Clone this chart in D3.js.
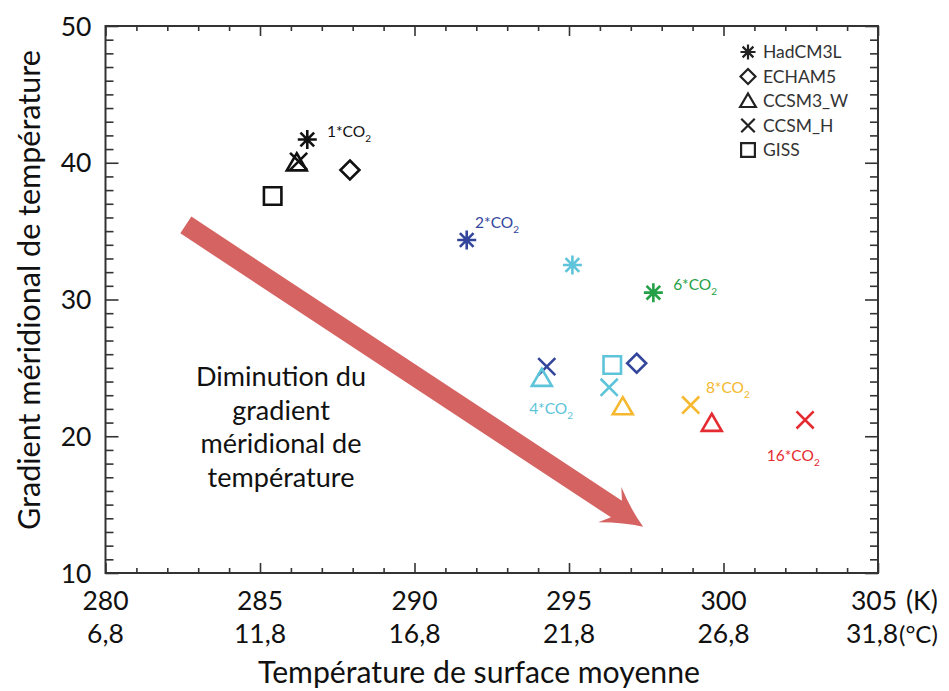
<!DOCTYPE html>
<html>
<head>
<meta charset="utf-8">
<script src="https://cdn.jsdelivr.net/npm/d3@7"></script>
<style>
  html, body { margin: 0; padding: 0; background: #fff; }
  svg { display: block; font-family: "Lato", "Open Sans", sans-serif; }
</style>
</head>
<body>
<svg id="chart" width="949" height="691"></svg>
<script>
// ---- data ----
const models = ["HadCM3L", "ECHAM5", "CCSM3_W", "CCSM_H", "GISS"];
const scenarios = ["1*CO", "2*CO", "4*CO", "6*CO", "8*CO", "16*CO"];
const scenarioColors = ["#111111", "#34469c", "#5ec4d9", "#25a047", "#f5b82e", "#e52b32"];

// each point: scenario index, model index, surface temperature (K), meridional gradient
const pointScenario = [0, 0, 0, 0, 0, 1, 1, 1, 2, 2, 2, 2, 3, 4, 4, 5, 5];
const pointModel    = [0, 2, 3, 1, 4, 0, 3, 1, 0, 2, 4, 3, 0, 2, 3, 2, 3];
const pointTemp     = [286.53, 286.19, 286.25, 287.91, 285.41, 291.69, 294.28, 297.19,
                       295.11, 294.12, 296.40, 296.30, 297.73, 296.74, 298.94, 299.62, 302.64];
const pointGradient = [41.7, 40.0, 40.1, 39.47, 37.57, 34.35, 25.09, 25.34,
                       32.52, 24.24, 25.21, 23.58, 30.50, 22.16, 22.28, 20.95, 21.19];

// scenario label anchors (K, gradient)
const labelTemp     = [287.17, 291.96, 293.71, 298.37, 299.43, 301.40];
const labelGradient = [41.88, 35.23, 21.63, 30.69, 23.16, 18.19];

const kelvinTicks  = [280, 285, 290, 295, 300, 305];
const celsiusTicks = ["6,8", "11,8", "16,8", "21,8", "26,8", "31,8"];
const gradientTicks = [10, 20, 30, 40, 50];

// arrow annotation (start / tip in data units)
const arrowStart = [282.6, 35.45];
const arrowTip   = [297.4, 13.39];
const arrowText = ["Diminution du", "gradient", "méridional de", "température"];

// ---- chart ----
const svg = d3.select("#chart");
const x = d3.scaleLinear().domain([280, 305]).range([105.5, 878]);
const y = d3.scaleLinear().domain([10, 50]).range([573, 26]);
const axisColor = "#333";

function fitWidth(sel, target) {
  const fs = parseFloat(sel.attr("font-size"));
  const w = sel.node().getComputedTextLength();
  if (w > 0) sel.attr("font-size", (fs * target / w).toFixed(2));
  return parseFloat(sel.attr("font-size"));
}

// frame
svg.append("rect")
  .attr("x", x(280)).attr("y", y(50))
  .attr("width", x(305) - x(280)).attr("height", y(10) - y(50))
  .attr("fill", "none").attr("stroke", axisColor).attr("stroke-width", 2);

function styleAxis(g) {
  g.select(".domain").remove();
  g.selectAll(".tick line").attr("stroke", axisColor).attr("stroke-width", 1.6);
  g.selectAll(".tick text").remove();
}
const minorX = d3.range(281, 305).filter(v => v % 5 !== 0);
const minorY = d3.range(11, 50).filter(v => v % 10 !== 0);

svg.append("g").attr("transform", `translate(0,${y(10)})`)
  .call(d3.axisBottom(x).tickValues(minorX).tickSize(-5)).call(styleAxis);
svg.append("g").attr("transform", `translate(0,${y(10)})`)
  .call(d3.axisBottom(x).tickValues(kelvinTicks).tickSize(-10)).call(styleAxis);
svg.append("g").attr("transform", `translate(0,${y(50)})`)
  .call(d3.axisTop(x).tickValues(minorX).tickSize(-5)).call(styleAxis);
svg.append("g").attr("transform", `translate(0,${y(50)})`)
  .call(d3.axisTop(x).tickValues(kelvinTicks).tickSize(-10)).call(styleAxis);
svg.append("g").attr("transform", `translate(${x(280)},0)`)
  .call(d3.axisLeft(y).tickValues(minorY).tickSize(-8)).call(styleAxis);
svg.append("g").attr("transform", `translate(${x(280)},0)`)
  .call(d3.axisLeft(y).tickValues(gradientTicks).tickSize(-13)).call(styleAxis);
svg.append("g").attr("transform", `translate(${x(305)},0)`)
  .call(d3.axisRight(y).tickValues(minorY).tickSize(-8)).call(styleAxis);
svg.append("g").attr("transform", `translate(${x(305)},0)`)
  .call(d3.axisRight(y).tickValues(gradientTicks).tickSize(-13)).call(styleAxis);

// tick labels
const tickFont = 26.5;
svg.append("g").selectAll("text").data(gradientTicks).join("text")
  .attr("x", x(280) - 14).attr("y", d => y(d)).attr("dy", "0.36em")
  .attr("text-anchor", "end").attr("font-size", tickFont).attr("fill", "#111")
  .text(d => d);
svg.append("g").selectAll("text").data(kelvinTicks).join("text")
  .attr("x", (d, i) => x(d) - (i === kelvinTicks.length - 1 ? 4 : 0)).attr("y", 610)
  .attr("text-anchor", "middle").attr("font-size", tickFont).attr("fill", "#111")
  .text(d => d);
svg.append("g").selectAll("text").data(celsiusTicks).join("text")
  .attr("x", (d, i) => x(kelvinTicks[i]) - (i === celsiusTicks.length - 1 ? 6 : 0)).attr("y", 643)
  .attr("text-anchor", "middle").attr("font-size", tickFont).attr("fill", "#111")
  .text(d => d);
svg.append("text").attr("x", 906).attr("y", 610).attr("font-size", tickFont).attr("fill", "#111").text("(K)");
svg.append("text").attr("x", 899).attr("y", 643).attr("font-size", 24).attr("fill", "#111").text("(°C)");

// axis titles
const xTitle = svg.append("text").attr("x", 479).attr("y", 683).attr("text-anchor", "middle")
  .attr("font-size", 27).attr("fill", "#111").text("Température de surface moyenne");
fitWidth(xTitle, 442);
const yTitle = svg.append("text").attr("transform", "translate(40,290) rotate(-90)").attr("text-anchor", "middle")
  .attr("font-size", 27).attr("fill", "#111").text("Gradient méridional de température");
fitWidth(yTitle, 480);

// arrow (drawn in data units through scales)
(function () {
  const x0 = x(arrowStart[0]), y0 = y(arrowStart[1]);
  const x1 = x(arrowTip[0]), y1 = y(arrowTip[1]);
  const ang = Math.atan2(y1 - y0, x1 - x0);
  const len = Math.hypot(x1 - x0, y1 - y0);
  const hw = 10, headLen = 38, headHw = 21;
  const p = d3.path();
  p.moveTo(0, -hw);
  p.lineTo(len - headLen + 6, -hw);
  p.lineTo(len - headLen - 2, -headHw);
  p.quadraticCurveTo(len - headLen / 2, -headHw / 3, len, 0);
  p.quadraticCurveTo(len - headLen / 2, headHw / 3, len - headLen - 2, headHw);
  p.lineTo(len - headLen + 6, hw);
  p.lineTo(0, hw);
  p.closePath();
  svg.append("path").attr("d", p.toString())
    .attr("transform", `translate(${x0},${y0}) rotate(${ang * 180 / Math.PI})`)
    .attr("fill", "#d56362");
})();

const arrowLines = svg.append("g").selectAll("text").data(arrowText).join("text")
  .attr("x", 281).attr("y", (d, i) => 386 + i * 33.5)
  .attr("text-anchor", "middle").attr("font-size", 25).attr("fill", "#111")
  .text(d => d);
const arrowFs = fitWidth(d3.select(arrowLines.nodes()[0]), 170);
arrowLines.attr("font-size", arrowFs);

// markers
function markerPath(m, r) {
  const p = d3.path();
  if (m === 0) { // asterisk
    const d = r * 0.72;
    p.moveTo(-r, 0); p.lineTo(r, 0);
    p.moveTo(0, -r); p.lineTo(0, r);
    p.moveTo(-d, -d); p.lineTo(d, d);
    p.moveTo(-d, d); p.lineTo(d, -d);
  } else if (m === 1) { // diamond
    p.moveTo(0, -r); p.lineTo(r, 0); p.lineTo(0, r); p.lineTo(-r, 0); p.closePath();
  } else if (m === 2) { // triangle
    p.moveTo(0, -r); p.lineTo(r * 1.05, r * 0.8); p.lineTo(-r * 1.05, r * 0.8); p.closePath();
  } else if (m === 3) { // X
    const d = r * 0.9;
    p.moveTo(-d, -d); p.lineTo(d, d); p.moveTo(-d, d); p.lineTo(d, -d);
  } else { // square
    const d = r * 0.92;
    p.rect(-d, -d, 2 * d, 2 * d);
  }
  return p.toString();
}

const pts = pointTemp.map((t, i) => ({ t, g: pointGradient[i], s: pointScenario[i], m: pointModel[i] }));
svg.append("g").selectAll("path").data(pts).join("path")
  .attr("transform", d => `translate(${x(d.t)},${y(d.g)})`)
  .attr("d", d => markerPath(d.m, 9.5))
  .attr("fill", "none")
  .attr("stroke", d => scenarioColors[d.s])
  .attr("stroke-width", 2.6)
  .attr("stroke-linejoin", "miter");

// scenario labels
const lbl = svg.append("g").selectAll("text").data(scenarios).join("text")
  .attr("x", (d, i) => x(labelTemp[i])).attr("y", (d, i) => y(labelGradient[i]))
  .attr("font-size", 15.5).attr("fill", (d, i) => scenarioColors[i]);
lbl.append("tspan").text(d => d);
lbl.append("tspan").attr("font-size", 10).attr("dy", 5).text("2");

// legend
const leg = svg.append("g").selectAll("g").data(models).join("g")
  .attr("transform", (d, i) => `translate(748,${52 + i * 24.5})`);
leg.append("path").attr("d", (d, i) => markerPath(i, 7.5))
  .attr("fill", "none").attr("stroke", "#222").attr("stroke-width", 2.2);
leg.append("text").attr("x", 15).attr("dy", "0.36em")
  .attr("font-size", 17.5).attr("fill", "#333").text(d => d);
</script>
</body>
</html>
